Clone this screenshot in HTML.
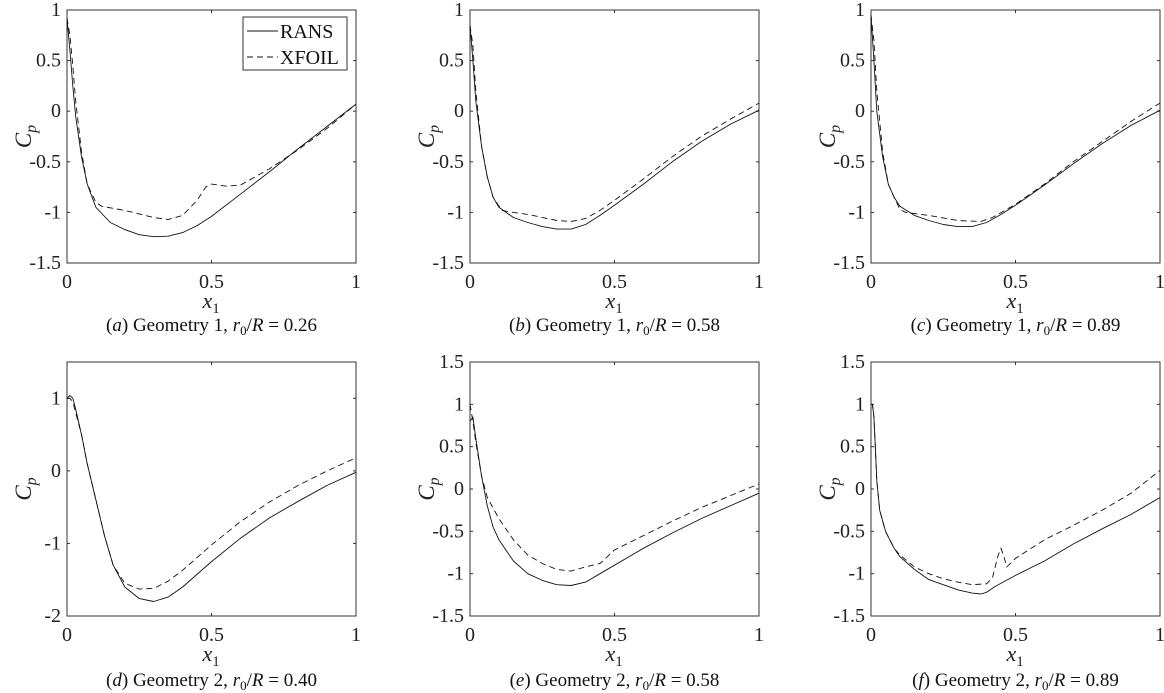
<!DOCTYPE html>
<html><head><meta charset="utf-8">
<style>
html,body{margin:0;padding:0;background:#fff;}
svg{display:block;font-family:"Liberation Serif",serif;}
</style></head>
<body>
<svg id="fig" width="1164" height="693" viewBox="0 0 1164 693" xmlns="http://www.w3.org/2000/svg"></svg>
<script>
// ---- data ----
const panelLetters = ["a","b","c","d","e","f"];
const panelCaptions = ["Geometry 1, ","Geometry 1, ","Geometry 1, ","Geometry 2, ","Geometry 2, ","Geometry 2, "];
const panelRatios = ["0.26","0.58","0.89","0.40","0.58","0.89"];
const xTicks = [0, 0.5, 1];
const xTickLabels = ["0","0.5","1"];
const yTicksRow1 = [1,0.5,0,-0.5,-1,-1.5];
const yTickLabelsRow1 = ["1","0.5","0","-0.5","-1","-1.5"];
const yTicksD = [1,0,-1,-2];
const yTickLabelsD = ["1","0","-1","-2"];
const yTicksEF = [1.5,1,0.5,0,-0.5,-1,-1.5];
const yTickLabelsEF = ["1.5","1","0.5","0","-0.5","-1","-1.5"];

const aRansX = [0,0.01,0.02,0.03,0.05,0.07,0.1,0.15,0.2,0.25,0.3,0.35,0.4,0.45,0.5,0.6,0.7,0.8,0.9,1];
const aRansY = [0.92,0.6,0.25,-0.05,-0.45,-0.72,-0.95,-1.1,-1.17,-1.22,-1.24,-1.235,-1.2,-1.13,-1.04,-0.82,-0.6,-0.37,-0.15,0.07];
const aXfoilX = [0,0.01,0.02,0.03,0.05,0.07,0.1,0.12,0.2,0.3,0.35,0.4,0.45,0.48,0.5,0.55,0.6,0.7,0.8,0.9,1];
const aXfoilY = [0.92,0.75,0.45,0.1,-0.4,-0.72,-0.9,-0.94,-0.98,-1.05,-1.07,-1.03,-0.88,-0.75,-0.72,-0.74,-0.73,-0.57,-0.38,-0.17,0.07];

const bRansX = [0,0.01,0.02,0.04,0.06,0.08,0.1,0.15,0.2,0.25,0.3,0.35,0.4,0.45,0.5,0.6,0.7,0.8,0.9,1];
const bRansY = [0.85,0.5,0.1,-0.35,-0.65,-0.85,-0.95,-1.05,-1.1,-1.14,-1.165,-1.165,-1.12,-1.03,-0.93,-0.72,-0.5,-0.3,-0.13,0.01];
const bXfoilX = [0,0.01,0.02,0.04,0.06,0.08,0.11,0.15,0.2,0.3,0.35,0.4,0.45,0.5,0.6,0.7,0.8,0.9,1];
const bXfoilY = [0.85,0.65,0.2,-0.35,-0.65,-0.85,-0.98,-1.0,-1.02,-1.08,-1.09,-1.06,-0.98,-0.88,-0.67,-0.45,-0.25,-0.08,0.08];

const cRansX = [0,0.01,0.02,0.04,0.06,0.08,0.1,0.15,0.2,0.25,0.3,0.35,0.4,0.45,0.5,0.6,0.7,0.8,0.9,1];
const cRansY = [0.95,0.5,0.0,-0.45,-0.72,-0.85,-0.94,-1.03,-1.08,-1.12,-1.14,-1.14,-1.1,-1.02,-0.93,-0.73,-0.52,-0.32,-0.14,0.01];
const cXfoilX = [0,0.01,0.02,0.04,0.06,0.08,0.1,0.12,0.2,0.3,0.38,0.42,0.5,0.6,0.7,0.8,0.9,1];
const cXfoilY = [0.95,0.7,0.2,-0.4,-0.72,-0.85,-0.97,-1.0,-1.03,-1.08,-1.09,-1.05,-0.92,-0.72,-0.5,-0.3,-0.1,0.08];

const dRansX = [0,0.01,0.02,0.03,0.05,0.07,0.1,0.13,0.16,0.2,0.25,0.3,0.35,0.4,0.5,0.6,0.7,0.8,0.9,1];
const dRansY = [1.0,1.04,1.0,0.85,0.5,0.1,-0.4,-0.9,-1.3,-1.6,-1.76,-1.8,-1.74,-1.6,-1.25,-0.93,-0.65,-0.42,-0.2,-0.02];
const dXfoilX = [0,0.01,0.02,0.03,0.05,0.07,0.1,0.13,0.16,0.2,0.25,0.3,0.35,0.4,0.5,0.6,0.7,0.8,0.9,1];
const dXfoilY = [1.0,1.0,0.95,0.8,0.5,0.1,-0.4,-0.9,-1.3,-1.55,-1.63,-1.62,-1.52,-1.37,-1.02,-0.7,-0.43,-0.2,0.0,0.18];

const eRansX = [0,0.01,0.02,0.04,0.06,0.08,0.1,0.15,0.2,0.25,0.3,0.35,0.4,0.45,0.5,0.6,0.7,0.8,0.9,1];
const eRansY = [0.8,0.85,0.6,0.15,-0.2,-0.45,-0.6,-0.85,-1.0,-1.08,-1.13,-1.14,-1.1,-1.0,-0.9,-0.7,-0.52,-0.35,-0.2,-0.05];
const eXfoilX = [0,0.01,0.02,0.04,0.06,0.1,0.15,0.2,0.25,0.3,0.35,0.4,0.45,0.5,0.6,0.7,0.8,0.9,1];
const eXfoilY = [1.0,0.8,0.55,0.15,-0.1,-0.35,-0.6,-0.78,-0.88,-0.95,-0.97,-0.92,-0.88,-0.72,-0.55,-0.38,-0.22,-0.08,0.06];

const fRansX = [0,0.005,0.01,0.015,0.02,0.03,0.05,0.08,0.1,0.15,0.2,0.25,0.3,0.35,0.38,0.4,0.43,0.5,0.6,0.7,0.8,0.9,1];
const fRansY = [1.0,1.0,0.85,0.5,0.1,-0.25,-0.5,-0.7,-0.8,-0.95,-1.07,-1.13,-1.19,-1.23,-1.24,-1.22,-1.15,-1.02,-0.85,-0.65,-0.47,-0.3,-0.1];
const fXfoilX = [0,0.005,0.01,0.015,0.02,0.03,0.05,0.08,0.1,0.15,0.2,0.25,0.3,0.35,0.4,0.42,0.44,0.45,0.46,0.47,0.5,0.6,0.7,0.8,0.9,1];
const fXfoilY = [1.0,1.0,0.85,0.5,0.1,-0.25,-0.5,-0.7,-0.78,-0.92,-1.0,-1.06,-1.1,-1.13,-1.12,-1.05,-0.78,-0.7,-0.8,-0.92,-0.82,-0.6,-0.43,-0.25,-0.05,0.22];

const panels = [
 {l:67,r:356,t:10,b:263,ymin:-1.5,ymax:1,ticks:yTicksRow1,labs:yTickLabelsRow1,rx:aRansX,ry:aRansY,xx:aXfoilX,xy:aXfoilY,legend:true},
 {l:470,r:759,t:10,b:263,ymin:-1.5,ymax:1,ticks:yTicksRow1,labs:yTickLabelsRow1,rx:bRansX,ry:bRansY,xx:bXfoilX,xy:bXfoilY},
 {l:871,r:1160,t:10,b:263,ymin:-1.5,ymax:1,ticks:yTicksRow1,labs:yTickLabelsRow1,rx:cRansX,ry:cRansY,xx:cXfoilX,xy:cXfoilY},
 {l:67,r:356,t:362,b:616,ymin:-2,ymax:1.5,ticks:yTicksD,labs:yTickLabelsD,rx:dRansX,ry:dRansY,xx:dXfoilX,xy:dXfoilY},
 {l:470,r:759,t:362,b:616,ymin:-1.5,ymax:1.5,ticks:yTicksEF,labs:yTickLabelsEF,rx:eRansX,ry:eRansY,xx:eXfoilX,xy:eXfoilY},
 {l:871,r:1160,t:362,b:616,ymin:-1.5,ymax:1.5,ticks:yTicksEF,labs:yTickLabelsEF,rx:fRansX,ry:fRansY,xx:fXfoilX,xy:fXfoilY}
];

const NS="http://www.w3.org/2000/svg";
const svg=document.getElementById('fig');
function mk(tag,attrs,parent){const e=document.createElementNS(NS,tag);for(const k in attrs)e.setAttribute(k,attrs[k]);(parent||svg).appendChild(e);return e;}

panels.forEach((p,i)=>{
  const g=mk('g',{});
  
  
  const sx=v=>p.l+(v-0)/(1-0)*(p.r-p.l);
  const sy=v=>p.b-(v-p.ymin)/(p.ymax-p.ymin)*(p.b-p.t);
  const box=mk('rect',{x:p.l,y:p.t,width:p.r-p.l,height:p.b-p.t,fill:'none',stroke:'#333',"stroke-width":1},g);
  
  
  xTicks.forEach((v,k)=>{
    const x=sx(v);
    mk('line',{x1:x,y1:p.b,x2:x,y2:p.b-3,stroke:'#333'},g);
    mk('line',{x1:x,y1:p.t,x2:x,y2:p.t+3,stroke:'#333'},g);
    const t=mk('text',{x:x,y:p.b+25,"text-anchor":"middle","font-size":20,fill:'#222'},g);
    t.textContent=xTickLabels[k];
    
    
  });
  p.ticks.forEach((v,k)=>{
    const y=sy(v);
    mk('line',{x1:p.l,y1:y,x2:p.l+3,y2:y,stroke:'#333'},g);
    mk('line',{x1:p.r,y1:y,x2:p.r-3,y2:y,stroke:'#333'},g);
    const t=mk('text',{x:p.l-6,y:y+6,"text-anchor":"end","font-size":20,fill:'#222'},g);
    t.textContent=p.labs[k];
    
    
  });
  const pts=(xs,ys)=>xs.map((x,k)=>sx(x).toFixed(1)+','+sy(ys[k]).toFixed(1)).join(' ');
  const r=mk('polyline',{points:pts(p.rx,p.ry),fill:'none',stroke:'#111',"stroke-width":0.9,"stroke-linejoin":"round"},g);
  
  
  const xf=mk('polyline',{points:pts(p.xx,p.xy),fill:'none',stroke:'#111',"stroke-width":0.9,"stroke-dasharray":"6,4"},g);
  
  
  const cx=(p.l+p.r)/2;
  const xl=mk('text',{x:cx-9,y:p.b+45,"font-size":22,"font-style":"italic",fill:'#222'},g);
  xl.innerHTML='x<tspan font-size="15" font-style="normal" dy="5">1</tspan>';
  
  
  const cy=(p.t+p.b)/2;
  const yl=mk('text',{x:0,y:0,"font-size":23,"font-style":"italic",fill:'#222',transform:`translate(${p.l-36},${cy}) rotate(-90)`,"text-anchor":"middle"},g);
  yl.innerHTML='C<tspan font-size="16" dy="5">p</tspan>';
  
  
  const cap=mk('text',{x:cx,y:p.b+(i<3?68:70),"text-anchor":"middle","font-size":19,fill:'#111'},g);
  cap.innerHTML='(<tspan font-style="italic">'+panelLetters[i]+'</tspan>) '+panelCaptions[i]+'<tspan font-style="italic">r</tspan><tspan font-size="13" dy="4">0</tspan><tspan dy="-4">/</tspan><tspan font-style="italic">R</tspan> = '+panelRatios[i];
  
  
  if(p.legend){
    const lg=mk('g',{},g);
    
    
    mk('rect',{x:243,y:17,width:104,height:53,fill:'#fff',stroke:'#333'},lg);
    mk('line',{x1:247,y1:31,x2:278,y2:31,stroke:'#111'},lg);
    mk('line',{x1:247,y1:57,x2:278,y2:57,stroke:'#111',"stroke-dasharray":"6,4"},lg);
    const t1=mk('text',{x:280,y:38,"font-size":20,fill:'#111'},lg);t1.textContent='RANS';
    
    
    const t2=mk('text',{x:280,y:64,"font-size":20,fill:'#111'},lg);t2.textContent='XFOIL';
    
    
  }
});
</script>
</body></html>
